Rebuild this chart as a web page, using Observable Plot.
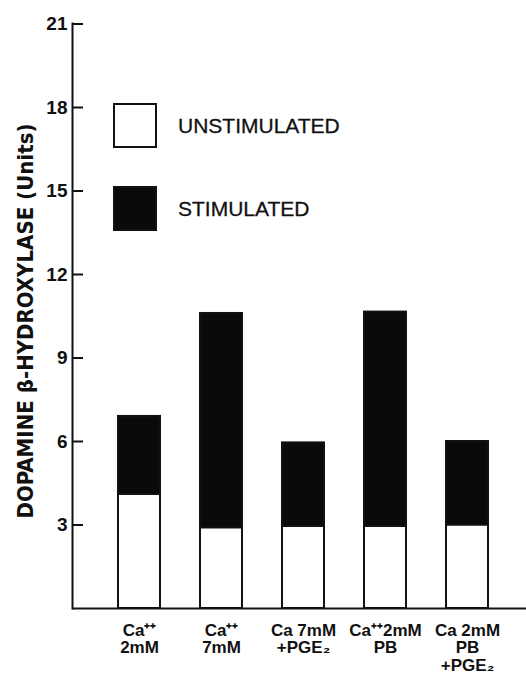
<!DOCTYPE html>
<html>
<head>
<meta charset="utf-8">
<script src="https://cdn.jsdelivr.net/npm/d3@7"></script>
<script src="https://cdn.jsdelivr.net/npm/@observablehq/plot@0.6"></script>
<style>
  html, body { margin: 0; padding: 0; background: #fff; }
  #wrap { position: relative; width: 526px; height: 679px; }
  .lg-box { position: absolute; box-sizing: border-box; width: 44px; height: 45px; border: 2.5px solid #111; }
  .lg-text { position: absolute; font-family: "Liberation Sans", Arial, sans-serif; font-size: 21px; color: #111; line-height: 1; -webkit-text-stroke: 0.3px #111; }
</style>
</head>
<body>
<div id="wrap"></div>
<script>
// ---- data ----
const categories = [
  "Ca\u207A\u207A\n2mM",
  "Ca\u207A\u207A\n7mM",
  "Ca 7mM\n+PGE\u2082",
  "Ca\u207A\u207A2mM\nPB",
  "Ca 2mM\nPB\n+PGE\u2082"
];
const unstimulated = [4.1, 2.9, 2.95, 2.95, 3.0];
const totals = [6.9, 10.6, 5.95, 10.65, 6.0];
const seriesNames = ["UNSTIMULATED", "STIMULATED"];
const yTicks = [3, 6, 9, 12, 15, 18, 21];
const yLabel = "DOPAMINE \u03B2-HYDROXYLASE (Units)";

const rows = [];
categories.forEach((c, i) => {
  rows.push({cat: c, series: seriesNames[0], value: unstimulated[i]});
  rows.push({cat: c, series: seriesNames[1], value: totals[i] - unstimulated[i]});
});

const plot = Plot.plot({
  width: 526,
  height: 679,
  marginLeft: 72,
  marginRight: 0,
  marginTop: 23,
  marginBottom: 71,
  style: {background: "#fff", color: "#111"},
  x: {type: "band", domain: categories, range: [117, 489], paddingInner: 0.49, paddingOuter: 0, axis: null},
  y: {domain: [0, 21], range: [608, 23.5], axis: null},
  color: {domain: seriesNames, range: ["#ffffff", "#0a0a0a"]},
  marks: [
    Plot.barY(rows, {x: "cat", y: "value", fill: "series", stroke: "#111", strokeWidth: 2}),
    Plot.ruleY([0], {stroke: "#111", strokeWidth: 2}),
    Plot.frame({anchor: "left", stroke: "#111", strokeWidth: 2}),
    // inward ticks
    Plot.axisY({ticks: yTicks, tickSize: 11, text: null, dx: 11, strokeWidth: 2, label: null}),
    // tick labels
    Plot.text(yTicks, {y: d => d, frameAnchor: "left", dx: -5, textAnchor: "end",
      fontSize: 19, fontWeight: "bold", fontFamily: "Liberation Sans, Arial, sans-serif", fill: "#111"}),
    // y-axis title
    Plot.text([yLabel], {frameAnchor: "left", dx: -46, dy: 5, rotate: -90, textAnchor: "middle",
      fontSize: 21, fontWeight: "bold",
      fontFamily: "DejaVu Sans Condensed, Liberation Sans Narrow, Arial Narrow, sans-serif", fill: "#111"}),
    Plot.axisX({tickSize: 0, tickPadding: 15, fontSize: 17, fontWeight: "bold", lineHeight: 1.03,
      fontFamily: "Liberation Sans, Arial, sans-serif", label: null})
  ]
});

const wrap = document.getElementById("wrap");
wrap.appendChild(plot);

d3.select(plot).selectAll("text").each(function() {
  const s = d3.select(this);
  if (s.text() === yLabel) {
    s.attr("textLength", 395).attr("lengthAdjust", "spacingAndGlyphs");
  }
});

// legend (HTML overlay)
const legendItems = [
  {name: seriesNames[0], fill: "#ffffff", top: 103},
  {name: seriesNames[1], fill: "#0a0a0a", top: 186}
];
legendItems.forEach(d => {
  const b = document.createElement("div");
  b.className = "lg-box";
  b.style.left = "113px";
  b.style.top = d.top + "px";
  b.style.background = d.fill;
  wrap.appendChild(b);
  const t = document.createElement("div");
  t.className = "lg-text";
  t.textContent = d.name;
  t.style.left = "178px";
  t.style.top = (d.top + 12) + "px";
  wrap.appendChild(t);
});
</script>
</body>
</html>
